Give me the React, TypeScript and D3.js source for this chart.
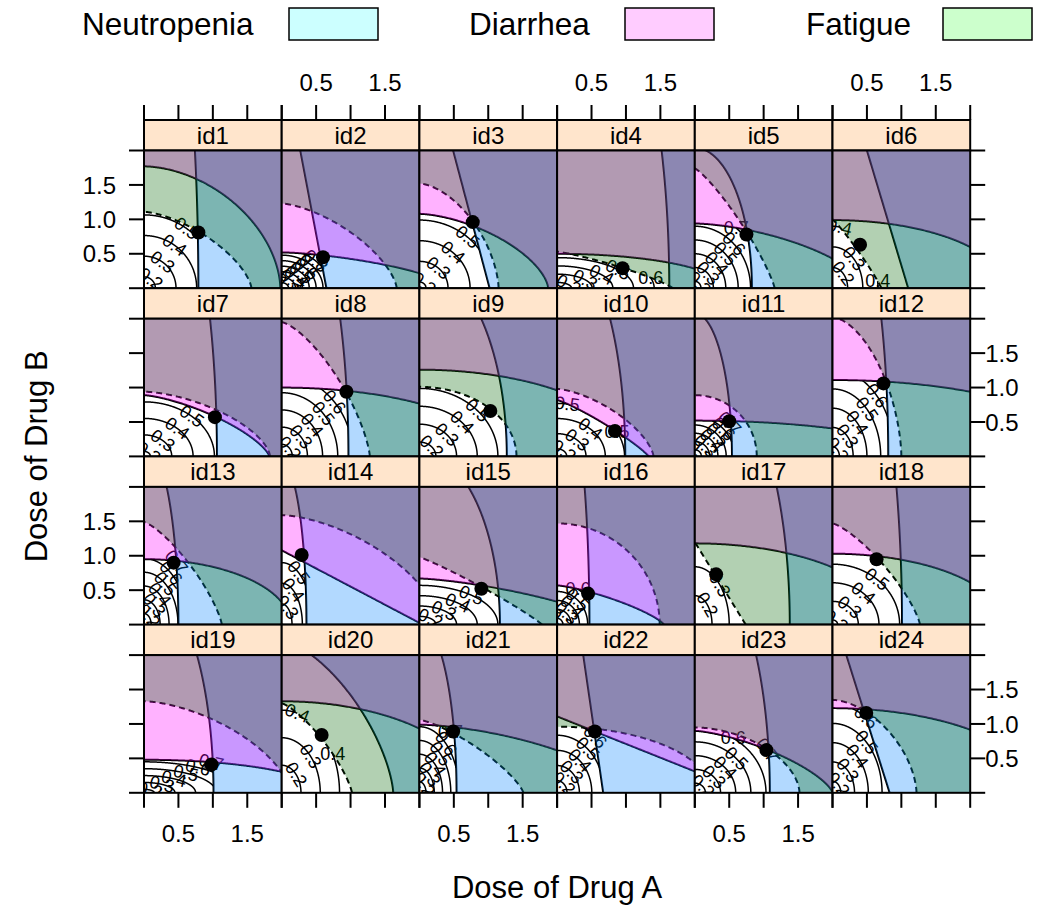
import * as d3 from 'd3';

const W = 1047;
const H = 905;
const LEFT = 144;
const TOP = 120;
const PW = 137.7;
const STRIP_H = 30.5;
const ROW_H = PW + STRIP_H;
const NCOL = 6;
const NROW = 4;
const TICK = 15;
const FONT = 'Liberation Sans, Arial, Helvetica, sans-serif';

const PANEL_IDS = d3.range(1, 25).map((i) => `id${i}`);

// toxicity boundaries: intercept on dose A, intercept on dose B, curve exponent
const NEUT_A = [0.79, 0.65, 1.02, 1.63, 0.83, 1.1, 1.06, 0.97, 1.27, 0.99, 0.54, 0.81, 0.5, 0.36, 1.17, 0.47, 1.38, 1.01, 1.01, 1.62, 0.54, 0.67, 1.09, 0.83];
const NEUT_B = [5.7, 3.42, 3.85, 5.5, 2.04, 3.67, 4.7, 4.15, 2.83, 3.18, 2.08, 4.15, 2.66, 2.36, 2.52, 3.8, 3.95, 5.1, 3.09, 2.21, 2.48, 4.62, 3.47, 2.64];
const NEUT_P = [2, 1, 1, 2, 2, 1, 2, 2, 2, 2, 2, 2, 2, 2, 2, 2, 2, 2, 2, 1.5, 2, 1, 2, 1];

const DIAR_A = [1.98, 2.47, 1.87, 2.43, 2.47, 2.51, 1.82, 3.12, 3.09, 1.33, 3.2, 3.76, 2.13, 2.05, 2.8, 1.55, 2.82, 2.49, 2.59, 2.81, 2.97, 2.78, 2.0, 3.0];
const DIAR_B = [1.77, 0.52, 1.08, 0.5, 0.94, 0.99, 0.89, 1.0, 1.26, 0.82, 0.52, 1.11, 0.95, 1.08, 0.67, 0.57, 1.18, 1.03, 0.48, 1.33, 0.99, 1.11, 0.9, 1.23];
const DIAR_P = [1.8, 1.5, 1.6, 2, 1.6, 2, 1.4, 2, 2, 1.15, 2, 2, 2, 1, 1.4, 1.3, 2, 2, 2, 2, 1.6, 1, 1.42, 2];

const FATI_A = [1.56, 1.67, 1.15, 1.68, 1.16, 0.71, 1.83, 1.28, 1.41, 1.4, 0.9, 1.0, 1.13, 2.3, 1.78, 1.49, 0.74, 1.27, 2.12, 1.02, 1.51, 2.24, 1.52, 1.22];
const FATI_B = [1.11, 1.23, 1.52, 0.53, 1.74, 1.0, 0.94, 1.95, 1.01, 0.98, 0.89, 2.02, 1.49, 1.59, 0.98, 1.47, 1.2, 1.47, 1.33, 1.3, 1.06, 0.96, 0.95, 1.35];
const FATI_P = [1.5, 1.5, 1.65, 1.2, 1.2, 1.1, 1.6, 1.4, 2, 1.5, 2, 1.7, 1.3, 1.6, 1.1, 2, 1, 1.3, 1.6, 1.3, 1.3, 2, 1.8, 1.7];

// recommended dose combination
const DOT_A = [0.79, 0.6, 0.775, 0.95, 0.75, 0.4, 1.03, 0.94, 1.03, 0.84, 0.5, 0.74, 0.43, 0.29, 0.9, 0.45, 0.31, 0.64, 0.98, 0.58, 0.49, 0.55, 1.04, 0.49];
const DOT_B = [0.81, 0.45, 0.96, 0.29, 0.78, 0.63, 0.57, 0.94, 0.66, 0.37, 0.51, 1.06, 0.9, 1.01, 0.52, 0.45, 0.73, 0.95, 0.41, 0.84, 0.89, 0.89, 0.62, 1.16];

// efficacy surface: dose A / dose B spread per 0.1 of efficacy, efficacy at zero dose
const EFF_CA = [0.3, 0.1, 0.32, 0.3, 0.18, 0.22, 0.31, 0.22, 0.3, 0.28, 0.12, 0.2, 0.13, 0.15, 0.3, 0.12, 0.25, 0.3, 0.3, 0.28, 0.12, 0.18, 0.22, 0.2];
const EFF_CB = [0.3, 0.08, 0.3, 0.12, 0.2, 0.3, 0.24, 0.25, 0.26, 0.22, 0.12, 0.28, 0.2, 0.3, 0.15, 0.13, 0.42, 0.27, 0.1, 0.4, 0.2, 0.22, 0.2, 0.28];
const EFF_E0 = [0.145, 0.1, 0.17, 0.13, 0.15, 0.1, 0.17, 0.13, 0.12, 0.15, 0.12, 0.15, 0.12, 0.2, 0.12, 0.13, 0.1, 0.175, 0.15, 0.1, 0.12, 0.12, 0.13, 0.14];
const LEVELS = [0.2, 0.3, 0.4, 0.5, 0.6, 0.7, 0.8];

const TICKS = [0, 0.5, 1, 1.5, 2];
const X_TICK_LABELS = ['', '0.5', '', '1.5', ''];
const Y_TICK_LABELS = ['', '0.5', '1.0', '1.5', ''];

const TOX_NAMES = ['Neutropenia', 'Diarrhea', 'Fatigue'];
const KEY_FILL = ['#CCFFFF', '#FFCCFF', '#CCFFCC'];
const REGION_FILL = ['#0080FF', '#FF00FF', '#006400'];
const KEY_TEXT_X = [82, 469, 806];
const KEY_BOX_X = [289, 625, 943];

const x = d3.scaleLinear().domain([0, 2]).range([0, PW]);
const y = d3.scaleLinear().domain([0, 2]).range([PW, 0]);
const line = d3.line<number[]>().x((d) => x(d[0])).y((d) => y(d[1]));

function boundary(a: number, b: number, p: number, n = 200) {
  return d3.range(n + 1).map((k) => {
    const t = ((k / n) * Math.PI) / 2;
    return [a * Math.pow(Math.cos(t), 2 / p), b * Math.pow(Math.sin(t), 2 / p)];
  });
}

function Panel({ i }: { i: number }) {
  const col = i % NCOL;
  const row = Math.floor(i / NCOL);
  const px = LEFT + col * PW;
  const sy = TOP + row * ROW_H;
  const py = sy + STRIP_H;
  const curves = [
    [NEUT_A[i], NEUT_B[i], NEUT_P[i]],
    [DIAR_A[i], DIAR_B[i], DIAR_P[i]],
    [FATI_A[i], FATI_B[i], FATI_P[i]],
  ];
  const feasible = (u: number, v: number) =>
    u <= 2 && v <= 2 && curves.every(([a, b, p]) => Math.pow(u / a, p) + Math.pow(v / b, p) < 1);

  // extent of the tolerable (white) region
  let maxU = 0.01;
  let maxV = 0.01;
  for (let gu = 0; gu <= 2; gu += 0.01) {
    for (let gv = 0; gv <= 2; gv += 0.01) {
      if (feasible(gu, gv)) {
        maxU = Math.max(maxU, gu);
        maxV = Math.max(maxV, gv);
      }
    }
  }

  const segs: { level: number; pts: number[][] }[] = [];
  LEVELS.forEach((level) => {
    const R = (level - EFF_E0[i]) / 0.1;
    if (R <= 0) return;
    let cur: number[][] = [];
    for (let k = 0; k <= 300; k++) {
      const t = ((k / 300) * Math.PI) / 2;
      const u = R * EFF_CA[i] * Math.cos(t);
      const v = R * EFF_CB[i] * Math.sin(t);
      if (feasible(u, v)) cur.push([u, v]);
      else {
        if (cur.length > 1) segs.push({ level, pts: cur });
        cur = [];
      }
    }
    if (cur.length > 1) segs.push({ level, pts: cur });
  });

  // label placement after lattice's "mixed" contour labels
  const labels = segs.map(({ level, pts }) => {
    const slopes = d3.range(pts.length - 1).map((k) => (pts[k + 1][1] - pts[k][1]) / (pts[k + 1][0] - pts[k][0]));
    const depth = pts.map(([u, v]) => Math.min(Math.min(u, maxU - u) / maxU, Math.min(v, maxV - v) / maxV));
    let loc = d3.minIndex(slopes, (s) => Math.abs(s));
    let rot = 0;
    if (depth[loc] < 0.05) {
      loc = Math.min(d3.maxIndex(depth), slopes.length - 1);
      rot = (Math.atan(slopes[loc]) * 180) / Math.PI;
    }
    return { level, u: pts[loc][0], v: pts[loc][1], rot };
  });

  return (
    <g>
      <rect x={px} y={sy} width={PW} height={STRIP_H} fill="#FFE5CC" stroke="#000" strokeWidth={2} />
      <text x={px + PW / 2} y={sy + STRIP_H / 2 + 8.6} textAnchor="middle" fontSize={24}>
        {PANEL_IDS[i]}
      </text>
      <g transform={`translate(${px},${py})`}>
        <g clipPath="url(#pclip)">
          <rect width={PW} height={PW} fill="#fff" />
          {segs.map((s, k) => (
            <path key={`c${k}`} d={line(s.pts) || ''} fill="none" stroke="#000" strokeWidth={1.5} />
          ))}
          {labels.map((l, k) => (
            <text
              key={`l${k}`}
              transform={`translate(${x(l.u)},${y(l.v)}) rotate(${-l.rot})`}
              textAnchor="middle"
              dominantBaseline="central"
              fontSize={18}
            >
              {l.level.toFixed(1)}
            </text>
          ))}
          {curves.map(([a, b, p], k) => (
            <path
              key={`b${k}`}
              d={line(boundary(a, b, p)) || ''}
              fill="none"
              stroke="#000"
              strokeWidth={2}
              strokeDasharray={k === 2 ? '6,4' : undefined}
            />
          ))}
          {curves.map(([a, b, p], k) => {
            const big = 10;
            const poly = [...boundary(a, b, p), [0, big], [big, big], [big, 0]];
            return <path key={`r${k}`} d={(line(poly) || '') + 'Z'} fill={REGION_FILL[k]} fillOpacity={0.3} stroke="none" />;
          })}
          <circle cx={x(DOT_A[i])} cy={y(DOT_B[i])} r={7} fill="#000" />
        </g>
        <rect width={PW} height={PW} fill="none" stroke="#000" strokeWidth={2} />
      </g>
    </g>
  );
}

export default function App() {
  const bottom = TOP + NROW * ROW_H;
  const right = LEFT + NCOL * PW;
  return (
    <svg
      width={W}
      height={H}
      viewBox={`0 0 ${W} ${H}`}
      fontFamily={FONT}
      style={{ position: 'absolute', left: 0, top: 0, display: 'block', background: '#fff' }}
    >
      <defs>
        <clipPath id="pclip">
          <rect x={0} y={0} width={PW} height={PW} />
        </clipPath>
      </defs>

      {TOX_NAMES.map((name, k) => (
        <g key={name}>
          <text x={KEY_TEXT_X[k]} y={35} fontSize={31.5}>
            {name}
          </text>
          <rect x={KEY_BOX_X[k]} y={8} width={89} height={32} fill={KEY_FILL[k]} stroke="#000" strokeWidth={1.5} />
        </g>
      ))}

      {PANEL_IDS.map((id, i) => (
        <Panel key={id} i={i} />
      ))}

      {d3.range(NCOL).map((c) => (
        <g key={`xc${c}`}>
          {TICKS.map((t, k) => (
            <g key={k}>
              <line x1={LEFT + c * PW + x(t)} x2={LEFT + c * PW + x(t)} y1={TOP} y2={TOP - TICK} stroke="#000" strokeWidth={2} />
              <line x1={LEFT + c * PW + x(t)} x2={LEFT + c * PW + x(t)} y1={bottom} y2={bottom + TICK} stroke="#000" strokeWidth={2} />
              {c % 2 === 1 && X_TICK_LABELS[k] && (
                <text x={LEFT + c * PW + x(t)} y={90.5} textAnchor="middle" fontSize={24}>
                  {X_TICK_LABELS[k]}
                </text>
              )}
              {c % 2 === 0 && X_TICK_LABELS[k] && (
                <text x={LEFT + c * PW + x(t)} y={841.5} textAnchor="middle" fontSize={24}>
                  {X_TICK_LABELS[k]}
                </text>
              )}
            </g>
          ))}
        </g>
      ))}

      {d3.range(NROW).map((r) => {
        const py = TOP + r * ROW_H + STRIP_H;
        return (
          <g key={`yr${r}`}>
            {TICKS.map((t, k) => (
              <g key={k}>
                <line x1={LEFT} x2={LEFT - TICK} y1={py + y(t)} y2={py + y(t)} stroke="#000" strokeWidth={2} />
                <line x1={right} x2={right + TICK} y1={py + y(t)} y2={py + y(t)} stroke="#000" strokeWidth={2} />
                {r % 2 === 0 && Y_TICK_LABELS[k] && (
                  <text x={LEFT - 28} y={py + y(t) + 8.6} textAnchor="end" fontSize={24}>
                    {Y_TICK_LABELS[k]}
                  </text>
                )}
                {r % 2 === 1 && Y_TICK_LABELS[k] && (
                  <text x={right + 15} y={py + y(t) + 8.6} textAnchor="start" fontSize={24}>
                    {Y_TICK_LABELS[k]}
                  </text>
                )}
              </g>
            ))}
          </g>
        );
      })}

      <text x={(LEFT + right) / 2} y={898} textAnchor="middle" fontSize={31}>
        Dose of Drug A
      </text>
      <text transform={`translate(47,${(TOP + bottom) / 2}) rotate(-90)`} textAnchor="middle" fontSize={31}>
        Dose of Drug B
      </text>
    </svg>
  );
}
